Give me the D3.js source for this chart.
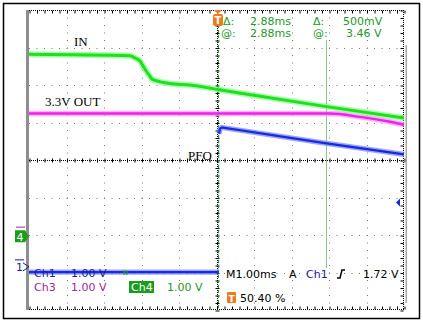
<!DOCTYPE html>
<html>
<head>
<meta charset="utf-8">
<script src="https://cdn.jsdelivr.net/npm/d3@7"></script>
<style>
  body { margin: 0; background: #fff; }
  svg { display: block; }
</style>
</head>
<body>
<div id="scope"></div>
<script>
// traces: time in ms from trigger, level in volts
const inTime  = [-5.04, -2.35, -2.21, -2.08, -2.00, -1.92, -1.84, -1.76, -1.63, -1.28, -0.75, 0, 2.85, 4.96]
const inVolts = [4.85, 4.81, 4.75, 4.67, 4.54, 4.41, 4.30, 4.19, 4.14, 4.07, 4.03, 3.91, 3.46, 3.15]

const outTime  = [-5.04, 2.99, 3.79, 4.59, 4.96]
const outVolts = [3.27, 3.27, 3.18, 3.05, 2.97]

// PFO is low before the trigger, high after it
const pfoLowTime   = [-5.04, 0.02]
const pfoLowVolts  = [-0.14, -0.14]
const pfoHighTime  = [0.03, 0.05, 0.10, 2.85, 4.96]
const pfoHighVolts = [3.55, 3.68, 3.72, 3.30, 3.00]

// channel ground positions (divisions from centre)
const ch1Pos = -2.85
const ch4Pos = -2.03
const ch3Pos = -2.03

const traceLabels = ["IN", "3.3V OUT", "PFO"]
const cursorTime = 2.88
const trigLevel = 1.72
const readTop = ["Δ:", "2.88ms", "Δ:", "500mV"]
const readBot = ["@:", "2.88ms", "@:", "3.46 V"]

let dimensions = {
    width: 423,
    height: 323,
    margin: { top: 10, right: 19, bottom: 13, left: 29 },
}
dimensions.boundedWidth = dimensions.width - dimensions.margin.left - dimensions.margin.right
dimensions.boundedHeight = dimensions.height - dimensions.margin.top - dimensions.margin.bottom

const wrapper = d3.select("#scope")
    .append("svg")
    .attr("width", dimensions.width)
    .attr("height", dimensions.height)
    .style("font-family", "'DejaVu Sans', sans-serif")

// outer frame
wrapper.append("rect")
    .attr("x", 3.5).attr("y", 3.5)
    .attr("width", 416).attr("height", 315)
    .attr("fill", "#fff")
    .attr("stroke", "#000")
    .attr("stroke-width", 1.5)

const bounds = wrapper.append("g")
    .attr("transform", `translate(${dimensions.margin.left}, ${dimensions.margin.top})`)

// scales: 1 ms/div horizontally, divisions vertically
const xScale = d3.scaleLinear()
    .domain([-5.04, 4.96])
    .range([0, dimensions.boundedWidth])
const yScale = d3.scaleLinear()
    .domain([-4, 4])
    .range([dimensions.boundedHeight, 0])

const divT = k => -5.04 + k
const minorX = d3.range(0, 51).map(k => -5.04 + k * 0.2)
const minorY = d3.range(0, 41).map(k => -4 + k * 0.2)

// graticule
const grid = bounds.append("g").attr("class", "grid")
d3.range(1, 10).filter(k => k !== 5).forEach(k => {
    const x = Math.round(xScale(divT(k))) + 0.5
    grid.append("line")
        .attr("x1", x).attr("x2", x)
        .attr("y1", 0).attr("y2", dimensions.boundedHeight)
        .attr("stroke", "#777")
        .attr("stroke-dasharray", "1,6.5")
})
d3.range(-3, 4).filter(k => k !== 0).forEach(k => {
    const y = Math.round(yScale(k)) + 0.5
    grid.append("line")
        .attr("x1", 0).attr("x2", dimensions.boundedWidth)
        .attr("y1", y).attr("y2", y)
        .attr("stroke", "#777")
        .attr("stroke-dasharray", "1,6.5")
})

const styleAxis = g => {
    g.selectAll(".tick line").attr("stroke", "#000")
    g.select(".domain").remove()
}
const dottedLine = (x1, y1, x2, y2) => bounds.append("line")
    .attr("x1", x1).attr("y1", y1).attr("x2", x2).attr("y2", y2)
    .attr("stroke", "#000")
    .attr("stroke-dasharray", "1,1")

// border ticks
bounds.append("g")
    .attr("transform", "translate(0.5, 0.5)")
    .call(d3.axisBottom(xScale).tickValues(minorX).tickSize(3).tickFormat(""))
    .call(styleAxis)
dottedLine(0, 0.5, dimensions.boundedWidth, 0.5)
bounds.append("g")
    .attr("transform", `translate(0.5, ${dimensions.boundedHeight - 0.5})`)
    .call(d3.axisTop(xScale).tickValues(minorX).tickSize(3).tickFormat(""))
    .call(styleAxis)
dottedLine(0, dimensions.boundedHeight - 0.5, dimensions.boundedWidth, dimensions.boundedHeight - 0.5)
bounds.append("g")
    .attr("transform", `translate(${dimensions.boundedWidth - 0.5}, 0.5)`)
    .call(d3.axisLeft(yScale).tickValues(minorY).tickSize(3).tickFormat(""))
    .call(styleAxis)
dottedLine(dimensions.boundedWidth - 0.5, 0, dimensions.boundedWidth - 0.5, dimensions.boundedHeight)

// centre cross with minor ticks
const cy = Math.round(yScale(0)) + 0.5
const cx = Math.round(xScale(divT(5))) + 0.5
bounds.append("g")
    .attr("transform", `translate(0.5, ${cy - 2})`)
    .call(d3.axisBottom(xScale).tickValues(minorX).tickSize(4).tickFormat(""))
    .call(styleAxis)
dottedLine(0, cy, dimensions.boundedWidth, cy)
bounds.append("g")
    .attr("transform", `translate(${cx - 2}, 0.5)`)
    .call(d3.axisRight(yScale).tickValues(minorY).tickSize(4).tickFormat(""))
    .call(styleAxis)
dottedLine(cx, 0, cx, dimensions.boundedHeight)

// left and right side bars
wrapper.append("rect")
    .attr("x", 26).attr("y", dimensions.margin.top)
    .attr("width", 3).attr("height", dimensions.boundedHeight)
    .attr("fill", "#8e8e8e")
wrapper.append("rect")
    .attr("x", 405.5).attr("y", 45)
    .attr("width", 1.5).attr("height", 258)
    .attr("fill", "#a8a8a8")

// time cursor
const ux = Math.round(xScale(cursorTime)) + 0.5
bounds.append("line")
    .attr("x1", ux).attr("x2", ux)
    .attr("y1", 30).attr("y2", 258)
    .attr("stroke", "#80cc80")
    .attr("stroke-width", 1)

// trace drawing
const drawTrace = (times, volts, pos, glow, core, coreWidth, curve) => {
    const pts = times.map((t, i) => [t, volts[i]])
    const lineGenerator = d3.line()
        .x(d => xScale(d[0]))
        .y(d => yScale(pos + d[1]))
        .curve(curve)
    bounds.append("path")
        .attr("d", lineGenerator(pts))
        .attr("fill", "none")
        .attr("stroke", glow)
        .attr("stroke-width", coreWidth + 3)
        .attr("stroke-opacity", 0.7)
    bounds.append("path")
        .attr("d", lineGenerator(pts))
        .attr("fill", "none")
        .attr("stroke", core)
        .attr("stroke-width", coreWidth)
}

// fast PFO edge leaves only a faint vertical trace
const edge = [[pfoLowTime[1], pfoLowVolts[1]], [pfoHighTime[0], pfoHighVolts[0]]]
bounds.append("path")
    .attr("d", d3.line()
        .x(d => xScale(d[0]))
        .y(d => yScale(ch1Pos + d[1]))(edge))
    .attr("stroke", "#8090ff")
    .attr("stroke-width", 1)
    .attr("stroke-opacity", 0.5)

// trigger position line
const tx = Math.round(xScale(0)) + 0.5
bounds.append("line")
    .attr("x1", tx).attr("x2", tx)
    .attr("y1", 0).attr("y2", dimensions.boundedHeight)
    .attr("stroke", "#2a9a2a")
    .attr("stroke-dasharray", "3,2")

drawTrace(pfoLowTime, pfoLowVolts, ch1Pos, "#7080ff", "#1a2ad8", 2.2, d3.curveLinear)
drawTrace(pfoHighTime, pfoHighVolts, ch1Pos, "#7080ff", "#1a2ad8", 2.2, d3.curveLinear)
drawTrace(outTime, outVolts, ch3Pos, "#ff90ff", "#ee22ee", 2.4, d3.curveMonotoneX)
drawTrace(inTime, inVolts, ch4Pos, "#80ff80", "#22dd22", 3, d3.curveMonotoneX)

// trace labels
const labelPos = [[74, 46], [45, 106], [188, 160]]
traceLabels.forEach((t, i) => {
    wrapper.append("text")
        .attr("x", labelPos[i][0]).attr("y", labelPos[i][1])
        .attr("font-family", "'Liberation Serif', serif")
        .attr("font-size", 13)
        .attr("fill", "#000")
        .text(t)
})

// cursor readouts
const green = "#22992a"
const readX = [223, 250, 313, 343]
const readX2 = [221, 250, 313, 346]
readTop.forEach((t, i) => {
    wrapper.append("text").attr("x", readX[i]).attr("y", 25)
        .attr("font-size", 11).attr("fill", green).text(t)
})
readBot.forEach((t, i) => {
    wrapper.append("text").attr("x", readX2[i]).attr("y", 37)
        .attr("font-size", 11).attr("fill", green).text(t)
})

// trigger marker at top
const orange = "#f07a1e"
const mx = dimensions.margin.left + xScale(0)
wrapper.append("path")
    .attr("d", `M${mx - 4},10 L${mx + 4},10 L${mx},14 Z`)
    .attr("fill", orange)
wrapper.append("rect")
    .attr("x", mx - 5).attr("y", 14).attr("width", 10).attr("height", 12)
    .attr("rx", 2).attr("fill", orange)
wrapper.append("text")
    .attr("x", mx).attr("y", 24).attr("text-anchor", "middle")
    .attr("font-size", 10).attr("font-weight", "bold").attr("fill", "#fff").text("T")

// trigger level marker on right
const ly = dimensions.margin.top + yScale(ch1Pos + trigLevel)
wrapper.append("path")
    .attr("d", `M396,${ly} L400,${ly - 4} L400,${ly + 4} Z`)
    .attr("fill", "#1a2ad8")

// channel ground markers
const blue = "#1c1c9c"
const purple = "#a024a0"
const g4 = dimensions.margin.top + yScale(ch4Pos)
wrapper.append("line")
    .attr("x1", 16).attr("x2", 25).attr("y1", g4 - 9).attr("y2", g4 - 9)
    .attr("stroke", purple)
wrapper.append("path")
    .attr("d", `M15,${g4 - 6} L25,${g4 - 6} L29,${g4} L25,${g4 + 6} L15,${g4 + 6} Z`)
    .attr("fill", "#1c9c1c")
wrapper.append("text")
    .attr("x", 20).attr("y", g4 + 4.5).attr("text-anchor", "middle")
    .attr("font-size", 11).attr("fill", "#fff").text("4")
const g1 = dimensions.margin.top + yScale(ch1Pos)
wrapper.append("line")
    .attr("x1", 15).attr("x2", 24).attr("y1", g1 - 7).attr("y2", g1 - 7)
    .attr("stroke", blue)
wrapper.append("text")
    .attr("x", 16).attr("y", g1 + 4.5)
    .attr("font-size", 11).attr("fill", blue).text("1")
wrapper.append("path")
    .attr("d", `M23,${g1 - 4} L29,${g1} L23,${g1 + 4}`)
    .attr("fill", "none").attr("stroke", blue)

// channel settings
const addText = (x, y, t, fill, size = 11) => wrapper.append("text")
    .attr("x", x).attr("y", y).attr("font-size", size).attr("fill", fill).text(t)
addText(34, 277, "Ch1", blue)
addText(71, 277, "1.00 V", blue)
addText(122, 275, "w", green, 8)
addText(34, 291, "Ch3", purple)
addText(71, 291, "1.00 V", purple)
wrapper.append("rect")
    .attr("x", 129).attr("y", 281).attr("width", 25).attr("height", 12)
    .attr("fill", "#1c9c1c")
addText(131, 291, "Ch4", "#fff")
addText(167, 291, "1.00 V", green)

// timebase and trigger settings
addText(226, 278, "M1.00ms", "#000")
addText(289, 278, "A", "#000")
addText(306, 278, "Ch1", blue)
wrapper.append("path")
    .attr("d", "M337,278 L340,278 L342,270 L345,270")
    .attr("fill", "none").attr("stroke", "#000").attr("stroke-width", 1.5)
addText(363, 278, "1.72 V", "#000")
wrapper.append("rect")
    .attr("x", 227).attr("y", 292).attr("width", 9).attr("height", 11)
    .attr("rx", 1).attr("fill", orange)
wrapper.append("text")
    .attr("x", 231.5).attr("y", 301.5).attr("text-anchor", "middle")
    .attr("font-size", 9).attr("font-weight", "bold").attr("fill", "#fff").text("T")
addText(240, 302, "50.40 %", "#000")
</script>
</body>
</html>
